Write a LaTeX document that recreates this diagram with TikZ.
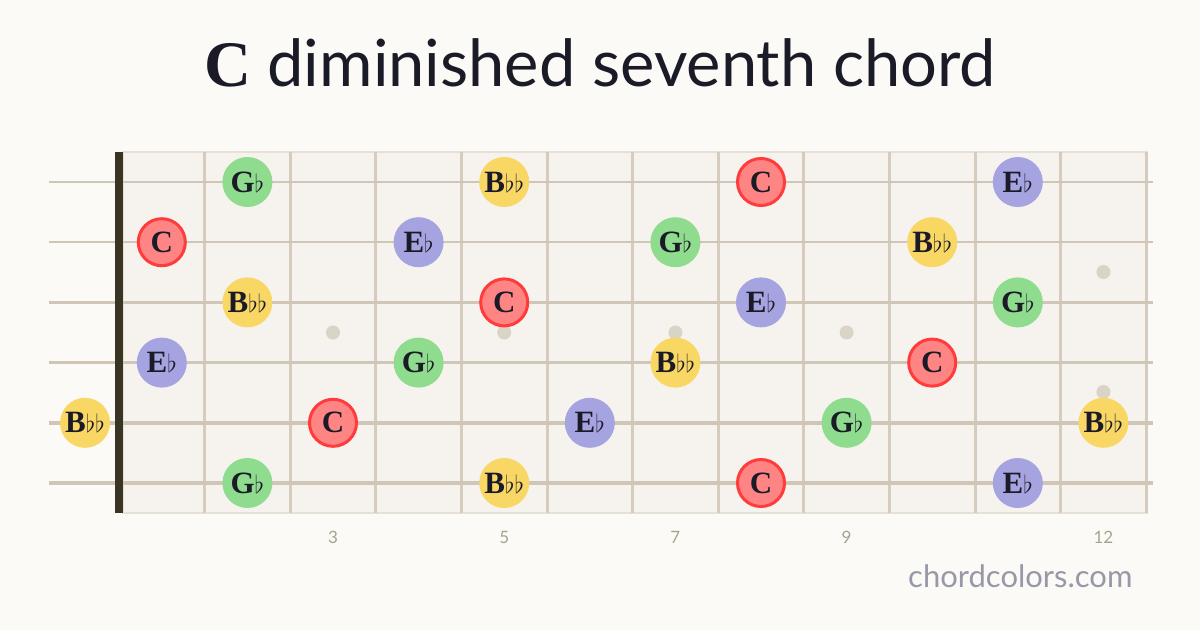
\documentclass[tikz,border=0pt]{standalone}
\usepackage{fontspec}
\setmainfont{Liberation Serif}
\setsansfont{Lato}

\definecolor{pagebg}{HTML}{FBFAF6}
\definecolor{boardbg}{HTML}{F6F3EE}
\definecolor{boardedge}{HTML}{E6E0D6}
\definecolor{fretcol}{HTML}{D5CCBE}
\definecolor{stringcol}{HTML}{CFC6B8}
\definecolor{nutcol}{HTML}{3A3424}
\definecolor{dotcol}{HTML}{DAD4C7}
\definecolor{rootfill}{HTML}{FF8585}
\definecolor{rootline}{HTML}{FF3B3B}
\definecolor{thirdfill}{HTML}{A5A3E0}
\definecolor{fifthfill}{HTML}{8FDC8F}
\definecolor{seventhfill}{HTML}{F9D764}
\definecolor{inkcol}{HTML}{1B1B28}
\definecolor{numcol}{HTML}{A8A290}
\definecolor{markcol}{HTML}{9898A8}

\newcommand{\fl}{$\flat$}

\tikzset{
  note/.style={circle, minimum size=50pt, inner sep=0pt, text=inkcol,
    font=\bfseries\fontsize{31}{33}\selectfont},
  root/.style={note, minimum size=47pt, fill=rootfill, draw=rootline, line width=3pt},
  third/.style={note, fill=thirdfill},
  fifth/.style={note, fill=fifthfill},
  seventh/.style={note, fill=seventhfill},
  fretnum/.style={text=numcol, font=\sffamily\fontsize{17}{19}\selectfont},
}

\begin{document}
\begin{tikzpicture}[x=1pt,y=-1pt]
  % Page
  \fill[pagebg] (0,0) rectangle (1200,630);
  \useasboundingbox (0,0) rectangle (1200,630);

  % Title
  \node[anchor=base, text=inkcol, font=\sffamily\fontsize{65}{78}\selectfont]
    (title) at (600,86) {{\rmfamily\bfseries C} diminished seventh chord};

  % Fretboard
  \filldraw[fill=boardbg, draw=boardedge, line width=1.5pt] (123,152) rectangle (1147,513);

  % Frets
  \foreach \n in {1,...,12}
    \draw[fretcol, line width=3pt] ({119+85.6*\n},152) -- ({119+85.6*\n},513);

  % Strings (thicker towards the bottom)
  \foreach \s in {1,...,6}
    \draw[stringcol, line width={2pt+0.5pt*(\s-1)}]
      (49,{182+60.2*(\s-1)}) -- (1153,{182+60.2*(\s-1)});

  % Nut
  \fill[nutcol] (115,152) rectangle (123,513);

  % Inlay dots
  \foreach \n in {3,5,7,9}
    \fill[dotcol] ({119+85.6*(\n-0.5)},332.5) circle (7);
  \fill[dotcol] ({119+85.6*11.5},272) circle (7);
  \fill[dotcol] ({119+85.6*11.5},392) circle (7);

  % Fret numbers
  \foreach \n in {3,5,7,9,12}
    \node[fretnum] (num-\n) at ({119+85.6*(\n-0.5)},537) {\n};

  % Chord tones: string/fret/kind/label
  \foreach \s/\f/\kind/\lbl in {
      1/2/fifth/G\fl, 1/5/seventh/B\fl\fl, 1/8/root/C, 1/11/third/E\fl,
      2/1/root/C, 2/4/third/E\fl, 2/7/fifth/G\fl, 2/10/seventh/B\fl\fl,
      3/2/seventh/B\fl\fl, 3/5/root/C, 3/8/third/E\fl, 3/11/fifth/G\fl,
      4/1/third/E\fl, 4/4/fifth/G\fl, 4/7/seventh/B\fl\fl, 4/10/root/C,
      5/0/seventh/B\fl\fl, 5/3/root/C, 5/6/third/E\fl, 5/9/fifth/G\fl, 5/12/seventh/B\fl\fl,
      6/2/fifth/G\fl, 6/5/seventh/B\fl\fl, 6/8/root/C, 6/11/third/E\fl}
  {
    \pgfmathsetmacro\nx{\f==0 ? 85 : 119+85.6*(\f-0.5)}
    \node[\kind] (n-\s-\f) at (\nx,{182+60.2*(\s-1)}) {\lbl};
  }

  % Watermark
  \node[anchor=base east, text=markcol, font=\sffamily\fontsize{31}{34}\selectfont]
    (site) at (1136,587) {chordcolors.com};
\end{tikzpicture}
\end{document}
